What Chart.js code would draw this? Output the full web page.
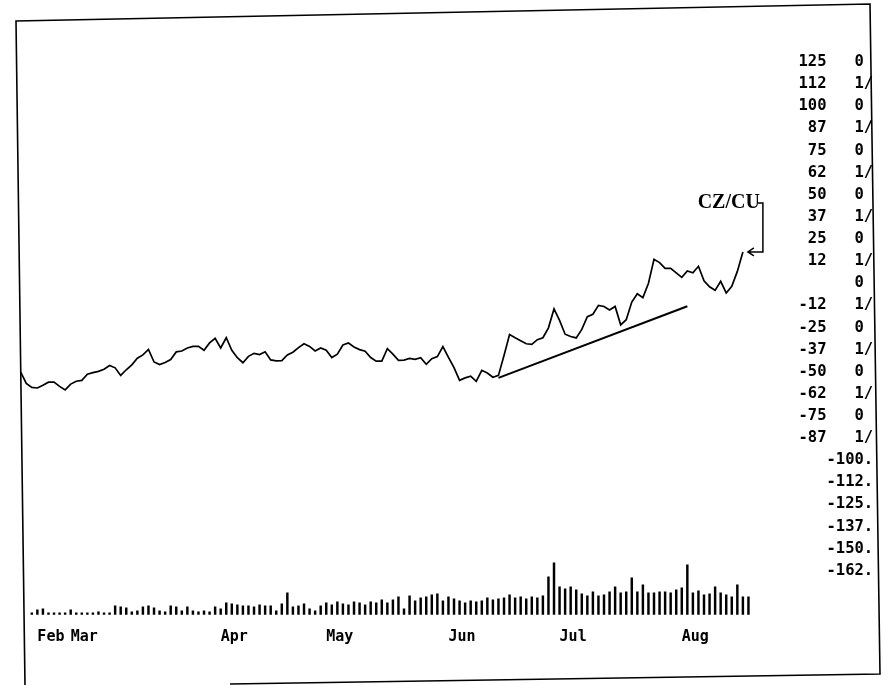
<!DOCTYPE html>
<html><head><meta charset="utf-8">
<script src="https://cdn.jsdelivr.net/npm/chart.js@4.4.0/dist/chart.umd.min.js"></script>
<style>html,body{margin:0;padding:0;background:#fff;}#wrap{width:888px;height:685px;position:relative;}</style>
</head><body><div id="wrap"><canvas id="c"></canvas></div>
<script>
// ---- data ----
const monthLabels = ['Feb','Mar','Apr','May','Jun','Jul','Aug'];
const monthStartDay = [3, 9, 36, 55, 77, 97, 119];

// CZ/CU spread, one value per trading day
const spreadValues = [
 -50.2,-56.6,-58.9,-59.2,-57.7,-55.9,-55.9,-58.3,-60.3,-57.0,
 -55.4,-54.9,-51.4,-50.5,-49.8,-48.6,-46.5,-47.8,-52.1,-48.9,
 -46.1,-42.4,-40.5,-37.4,-44.5,-46.0,-44.8,-43.1,-38.8,-38.3,
 -36.6,-35.7,-35.7,-37.9,-33.7,-31.1,-36.6,-30.8,-37.9,-42.1,
 -44.9,-41.3,-39.6,-40.3,-38.7,-43.3,-43.9,-43.7,-40.5,-39.0,
 -36.4,-34.2,-35.7,-38.3,-36.6,-37.9,-42.0,-40.1,-34.9,-33.8,
 -36.0,-37.5,-38.4,-42.0,-44.0,-44.0,-37.0,-40.1,-43.6,-43.4,
 -42.5,-43.0,-42.1,-45.8,-42.6,-41.5,-35.8,-41.9,-47.7,-54.9,
 -53.5,-52.5,-55.5,-49.2,-50.7,-53.1,-52.1,-40.8,-29.0,-30.8,
 -32.5,-34.2,-34.5,-31.9,-30.8,-25.2,-14.5,-21.0,-28.8,-30.1,
 -30.9,-26.1,-18.9,-17.5,-12.5,-13.1,-15.1,-13.1,-23.5,-20.6,
 -10.6,-5.9,-8.1,0.0,13.5,11.7,8.4,8.4,5.9,3.3,
 6.9,5.9,9.6,1.4,-2.0,-4.0,1.1,-5.5,-1.7,6.7,
 17.7
];

// volume bars, one per trading day (null = no bar)
const volumeValues = [
 null,null,
 2,5,6,2,2,2,2,5,2,2,2,2,3,2,2,
 9,8,7,3,4,8,9,7,4,3,9,8,4,8,
 4,3,4,3,8,6,12,11,10,9,
 9,8,10,9,9,4,11,22,8,9,
 11,6,4,9,12,10,13,11,10,13,
 12,10,13,12,15,12,15,18,6,19,
 14,17,18,20,21,14,18,16,
 14,12,14,13,14,17,15,16,17,20,17,18,16,18,17,19,38,52,
 28,26,28,25,21,19,23,19,20,23,28,22,23,37,23,30,22,22,23,23,22,25,27,50,22,24,20,21,28,22,20,18,30,18,18
];

// trend line (support) endpoints
const trendDays = [86, 120];
const trendValues = [-53.5, -13.0];

const yTickValues = [125,112.5,100,87.5,75,62.5,50,37.5,25,12.5,0,-12.5,-25,-37.5,-50,-62.5,-75,-87.5,-100,-112.5,-125,-137.5,-150,-162.5];
const yTickLabels = [
 '125   0 ','112   1/','100   0 ',' 87   1/',' 75   0 ',' 62   1/',' 50   0 ',' 37   1/',
 ' 25   0 ',' 12   1/','      0 ','-12   1/','-25   0 ','-37   1/','-50   0 ','-62   1/',
 '-75   0 ','-87   1/','   -100.','   -112.','   -125.','   -137.','   -150.','   -162.'
];
const seriesName = 'CZ/CU';

// ---- plugins ----
const framePlugin = {
  id: 'frame',
  afterDraw(chart) {
    const ctx = chart.ctx;
    ctx.save();
    ctx.strokeStyle = '#000';
    ctx.lineWidth = 1.6;
    ctx.beginPath();
    ctx.moveTo(25, 685);
    ctx.lineTo(16, 21);
    ctx.lineTo(870, 4);
    ctx.lineTo(880, 674);
    ctx.lineTo(230, 684);
    ctx.stroke();
    ctx.restore();
  }
};

const annotPlugin = {
  id: 'annot',
  afterDatasetsDraw(chart) {
    const meta = chart.getDatasetMeta(0);
    const pt = meta.data[spreadValues.length - 1];
    if (!pt) return;
    const px = pt.x, py = pt.y;
    const ctx = chart.ctx;
    ctx.save();
    ctx.fillStyle = '#000';
    ctx.strokeStyle = '#000';
    ctx.lineWidth = 1.5;
    ctx.font = "bold 20px 'Liberation Serif'";
    ctx.textAlign = 'right';
    ctx.textBaseline = 'alphabetic';
    ctx.fillText(seriesName, px + 17, py - 44);
    ctx.beginPath();
    ctx.moveTo(px + 15, py - 49);
    ctx.lineTo(px + 20, py - 49);
    ctx.lineTo(px + 20, py);
    ctx.lineTo(px + 5, py);
    ctx.moveTo(px + 11, py - 4);
    ctx.lineTo(px + 5, py);
    ctx.lineTo(px + 11, py + 4);
    ctx.stroke();
    ctx.restore();
  }
};

const monoFont = "'DejaVu Sans Mono', 'Liberation Mono', monospace";

new Chart(document.getElementById('c'), {
  type: 'line',
  data: {
    datasets: [
      {
        label: seriesName,
        type: 'line',
        data: spreadValues.map((v, i) => ({x: i, y: v})),
        yAxisID: 'y',
        borderColor: '#000',
        borderWidth: 1.7,
        pointRadius: 0,
        tension: 0,
        fill: false
      },
      {
        label: 'trend',
        type: 'line',
        data: trendDays.map((d, i) => ({x: d, y: trendValues[i]})),
        yAxisID: 'y',
        borderColor: '#000',
        borderWidth: 2,
        pointRadius: 0,
        fill: false
      },
      {
        label: 'volume',
        type: 'bar',
        data: volumeValues.map((v, i) => ({x: i, y: v})),
        yAxisID: 'v',
        backgroundColor: '#000',
        borderWidth: 0,
        barThickness: 1.8,
        grouped: false
      }
    ]
  },
  options: {
    responsive: true,
    maintainAspectRatio: false,
    animation: false,
    events: [],
    layout: {padding: {left: 20.7, right: 13, top: 20, bottom: 26.2}},
    plugins: {legend: {display: false}, tooltip: {enabled: false}},
    scales: {
      x: {
        type: 'linear',
        min: 0,
        max: 138.3,
        offset: false,
        grid: {display: false, drawTicks: false},
        border: {display: false},
        afterBuildTicks: s => { s.ticks = monthStartDay.map(v => ({value: v})); },
        ticks: {
          autoSkip: false, maxRotation: 0, minRotation: 0, align: 'start', padding: 13,
          color: '#000', font: {family: monoFont, size: 15, weight: 'bold'},
          callback: (v, i) => monthLabels[i]
        }
      },
      y: {
        position: 'right',
        min: -187.4,
        max: 148.8,
        grid: {display: false, drawTicks: false},
        border: {display: false},
        afterBuildTicks: s => { s.ticks = yTickValues.map(v => ({value: v})); },
        afterFit: s => { s.width = 86; },
        ticks: {
          autoSkip: false, padding: 9.5, crossAlign: 'near',
          color: '#000', font: {family: monoFont, size: 15.5, weight: 'bold'},
          callback: (v, i) => yTickLabels[i]
        }
      },
      v: {
        display: false,
        min: 0,
        max: 594
      }
    }
  },
  plugins: [framePlugin, annotPlugin]
});
</script>
</body></html>
